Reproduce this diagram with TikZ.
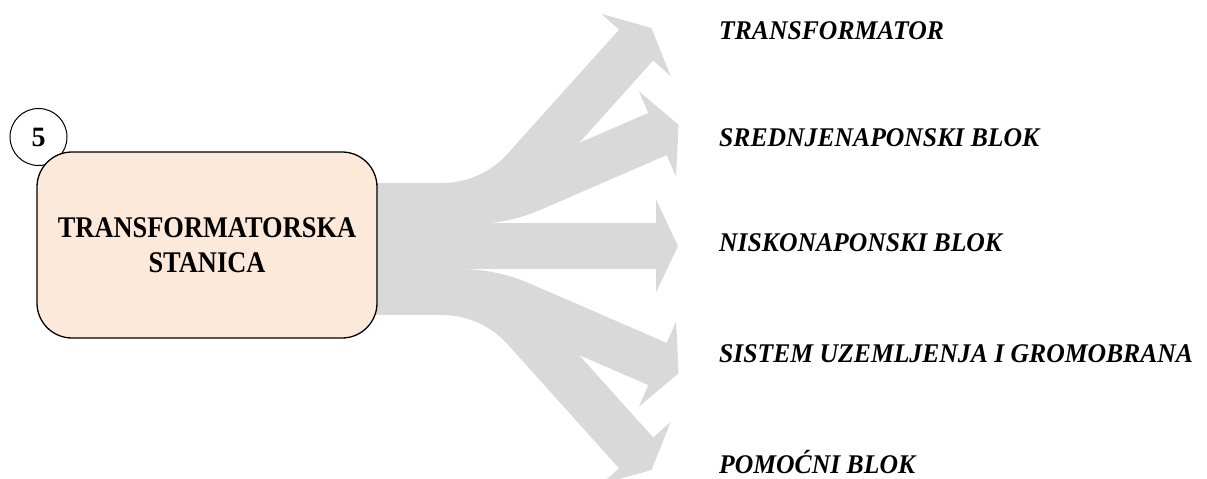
\documentclass[tikz,border=0pt]{standalone}
\usepackage{fontspec}
\setmainfont{Liberation Serif}
\newfontfamily\stationfont[FakeStretch=0.88]{Liberation Serif}
\newfontfamily\partfont[FakeStretch=0.95]{Liberation Serif}
\usetikzlibrary{calc}
\definecolor{arrowgray}{HTML}{D9D9D9}
\definecolor{peach}{HTML}{FCE9DA}

\begin{document}
\begin{tikzpicture}[
      x=1pt, y=-1pt,
      branch/.style={draw=arrowgray, line width=46pt, line cap=butt, shorten >=-1pt},
      head/.style={fill=arrowgray},
      station/.style={draw, line width=1.3pt, fill=peach, rounded corners=35pt,
        minimum width=340pt, minimum height=186pt, align=center,
        font=\stationfont\fontsize{30}{35}\selectfont\bfseries},
      badge/.style={draw, line width=1pt, fill=white, circle, minimum size=57pt,
        inner sep=0pt, font=\fontsize{28}{30}\selectfont\bfseries},
      part/.style={anchor=base west, inner sep=0pt,
        font=\partfont\fontsize{27}{32}\selectfont\bfseries\itshape}
    ]
    \useasboundingbox (0,0) rectangle (1207,479);
    % Points of the five branches.
    \coordinate (s1) at (442,206);   \coordinate (m1) at (524.5,169.3);
    \coordinate (b1) at (636.1,45.1); \coordinate (t1) at (651.5,28);
    \coordinate (s2) at (472,201);   \coordinate (m2) at (531.9,188.5);
    \coordinate (b2) at (657.5,134); \coordinate (t2) at (678.6,124.8);
    \coordinate (s3) at (440,246);   \coordinate (b3) at (656,246);
    \coordinate (t3) at (678,246);
    \coordinate (s4) at (460,292);   \coordinate (m4) at (520.6,304.6);
    \coordinate (b4) at (657.5,364); \coordinate (t4) at (678.6,373.2);
    \coordinate (s5) at (442,292);   \coordinate (m5) at (524.5,328.7);
    \coordinate (b5) at (636.1,452.9); \coordinate (t5) at (651.5,470);
    % Draw the trunk and the branches.
    \fill[arrowgray] (372,183) rectangle (460,315);
    \draw[branch] (s1) .. controls +(31.5,0) and +(-21.1,23.4) .. (m1) -- (b1);
    \draw[branch] (s2) .. controls +(20.6,0) and +(-18.9,8.2) .. (m2) -- (b2);
    \draw[branch] (s3) -- (b3);
    \draw[branch] (s4) .. controls +(20.8,0) and +(-19.1,-8.3) .. (m4) -- (b4);
    \draw[branch] (s5) .. controls +(31.5,0) and +(-21.1,-23.4) .. (m5) -- (b5);
    \foreach \i in {1,...,5}
      \fill[head] (t\i) -- ($(b\i)!46.5pt!90:(t\i)$) -- ($(b\i)!46.5pt!-90:(t\i)$) -- cycle;
    % Draw the station and its number.
    \node[badge] (num) at (38.5,137) {5};
    \node[station] (ts) at (207,245) {TRANSFORMATORSKA\\STANICA};
    % Draw the parts.
    \node[part] (trafo) at (719,39) {TRANSFORMATOR};
    \node[part] (snblok) at (719,146) {SREDNJENAPONSKI BLOK};
    \node[part] (nnblok) at (719,251) {NISKONAPONSKI BLOK};
    \node[part] (uzemlj) at (719,362) {SISTEM UZEMLJENJA I GROMOBRANA};
    \node[part] (pomblok) at (719,473) {POMOĆNI BLOK};
\end{tikzpicture}
\end{document}
